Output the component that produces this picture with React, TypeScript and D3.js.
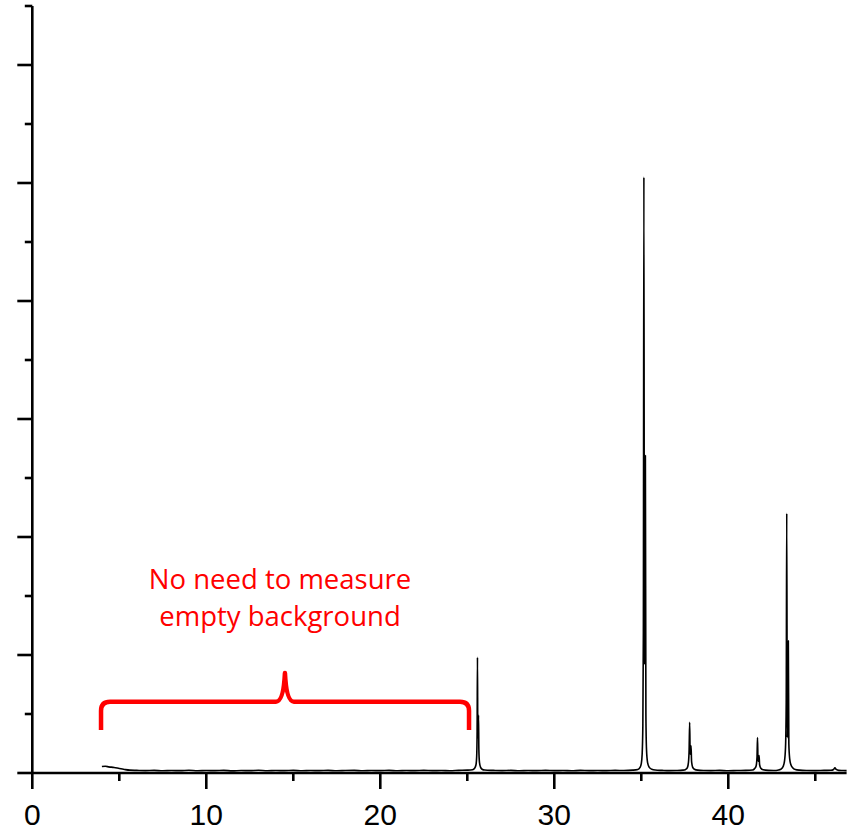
import React from "react";
import * as d3 from "d3";

// 2θ (degrees) and intensity (arbitrary units, one unit per major y tick)
const scan: [number, number][] = [
  [4.0, 0.055], [4.2, 0.057], [4.4, 0.052], [4.7, 0.047], [5.0, 0.038], [5.3, 0.03], [5.6, 0.024],
  [6.0, 0.022], [6.5, 0.02], [7.0, 0.022], [7.5, 0.019], [8.0, 0.021], [8.5, 0.02], [9.0, 0.023],
  [9.5, 0.019], [10, 0.021], [10.5, 0.02], [11, 0.022], [11.5, 0.018], [12, 0.021], [12.5, 0.02],
  [13, 0.023], [13.5, 0.019], [14, 0.021], [14.5, 0.02], [15, 0.022], [15.5, 0.019], [16, 0.021],
  [16.5, 0.02], [17, 0.022], [17.5, 0.019], [18, 0.021], [18.5, 0.022], [19, 0.019], [19.5, 0.021],
  [20, 0.02], [20.5, 0.022], [21, 0.019], [21.5, 0.021], [22, 0.02], [22.5, 0.022], [23, 0.02],
  [23.5, 0.021], [24, 0.019], [24.5, 0.022], [25, 0.024], [25.3, 0.028],
  // peak 25.6
  [25.42, 0.04], [25.5, 0.07], [25.54, 0.14], [25.565, 0.35], [25.585, 0.98], [25.605, 0.3],
  [25.625, 0.34], [25.645, 0.49], [25.665, 0.2], [25.7, 0.09], [25.76, 0.05], [25.85, 0.032], [26.0, 0.025],
  [26.5, 0.022], [27, 0.02], [27.5, 0.022], [28, 0.019], [28.5, 0.021], [29, 0.02], [29.5, 0.022],
  [30, 0.02], [30.5, 0.021], [31, 0.019], [31.5, 0.022], [32, 0.02], [32.5, 0.021], [33, 0.02],
  [33.5, 0.022], [34, 0.021], [34.5, 0.024], [34.8, 0.03],
  // peak 35.15
  [34.92, 0.045], [35.0, 0.08], [35.05, 0.16], [35.09, 0.4], [35.12, 1.2], [35.15, 5.05], [35.18, 0.92],
  [35.205, 1.2], [35.235, 2.69], [35.265, 0.5], [35.3, 0.2], [35.36, 0.09], [35.45, 0.05], [35.6, 0.032],
  [35.8, 0.025], [36.2, 0.022], [36.6, 0.02], [37.0, 0.021], [37.4, 0.024],
  // peak 37.8
  [37.55, 0.03], [37.65, 0.045], [37.71, 0.09], [37.75, 0.2], [37.78, 0.43], [37.81, 0.16], [37.835, 0.17],
  [37.86, 0.23], [37.89, 0.1], [37.95, 0.05], [38.05, 0.032], [38.25, 0.024],
  [38.6, 0.021], [39, 0.02], [39.5, 0.022], [40, 0.019], [40.5, 0.021], [41, 0.022], [41.4, 0.026],
  // peak 41.7
  [41.5, 0.035], [41.6, 0.06], [41.65, 0.13], [41.68, 0.3], [41.71, 0.1], [41.74, 0.11], [41.77, 0.147],
  [41.8, 0.07], [41.87, 0.04], [42.0, 0.027], [42.3, 0.022], [42.6, 0.021], [42.9, 0.026],
  // peak 43.36
  [43.05, 0.035], [43.15, 0.055], [43.23, 0.1], [43.29, 0.22], [43.33, 0.6], [43.36, 2.2], [43.39, 0.3],
  [43.42, 0.45], [43.45, 1.12], [43.48, 0.25], [43.53, 0.12], [43.6, 0.07], [43.7, 0.045], [43.85, 0.03],
  [44.1, 0.024], [44.5, 0.021], [45, 0.02], [45.5, 0.022], [45.9, 0.023],
  // small bump 46.1
  [46.05, 0.03], [46.13, 0.045], [46.2, 0.03], [46.35, 0.022], [46.6, 0.021], [46.8, 0.02],
];

const xMajorTicks = [0, 10, 20, 30, 40];
const xMinorTicks = [5, 15, 25, 35, 45];
const yMajorTicks = [0, 1, 2, 3, 4, 5, 6];
const yMinorTicks = [0.5, 1.5, 2.5, 3.5, 4.5, 5.5, 6.5];
const noteLines = ["No need to measure", "empty background"];
// bracket annotation: [start 2θ, centre 2θ, end 2θ]
const bracketSpan = [3.95, 14.52, 25.1];

export default function App() {
  const W = 850;
  const H = 830;
  const x = d3.scaleLinear().domain([0, 46.8]).range([32.3, 846.6]);
  const y = d3.scaleLinear().domain([0, 6.5]).range([773, 6]);

  const line = d3
    .line<[number, number]>()
    .x((d) => x(d[0]))
    .y((d) => y(d[1]))
    .curve(d3.curveMonotoneX);

  const red = "#ff0000";
  const axisW = 2.6;

  // bracket geometry
  const bx0 = x(bracketSpan[0]);
  const bxc = x(bracketSpan[1]);
  const bx1 = x(bracketSpan[2]);
  const yh = 701.7;
  const yb = 730;
  const yt = 673;
  const r = 9;
  const bracket = [
    `M${bx0},${yb}`,
    `L${bx0},${yh + r}`,
    `Q${bx0},${yh} ${bx0 + r},${yh}`,
    `L${bxc - 9},${yh}`,
    `Q${bxc - 1.5},${yh} ${bxc},${yt}`,
    `Q${bxc + 1.5},${yh} ${bxc + 9},${yh}`,
    `L${bx1 - r},${yh}`,
    `Q${bx1},${yh} ${bx1},${yh + r}`,
    `L${bx1},${yb}`,
  ].join(" ");

  return (
    <svg
      width={W}
      height={H}
      style={{ position: "absolute", left: 0, top: 0, background: "#fff" }}
    >
      {/* data */}
      <path d={line(scan) || ""} fill="none" stroke="#000" strokeWidth={1.6} strokeLinejoin="round" />

      {/* y axis */}
      <line x1={x(0)} x2={x(0)} y1={y(6.5)} y2={y(0)} stroke="#000" strokeWidth={axisW} />
      {yMajorTicks.map((t) => (
        <line key={"ym" + t} x1={x(0) - 15} x2={x(0)} y1={y(t)} y2={y(t)} stroke="#000" strokeWidth={axisW} />
      ))}
      {yMinorTicks.map((t) => (
        <line key={"yn" + t} x1={x(0) - 7.5} x2={x(0)} y1={y(t)} y2={y(t)} stroke="#000" strokeWidth={axisW} />
      ))}

      {/* x axis */}
      <line x1={x(0)} x2={x(46.8)} y1={y(0)} y2={y(0)} stroke="#000" strokeWidth={axisW} />
      {xMajorTicks.map((t) => (
        <line key={"xm" + t} x1={x(t)} x2={x(t)} y1={y(0)} y2={y(0) + 16} stroke="#000" strokeWidth={axisW} />
      ))}
      {xMinorTicks.map((t) => (
        <line key={"xn" + t} x1={x(t)} x2={x(t)} y1={y(0)} y2={y(0) + 8} stroke="#000" strokeWidth={axisW} />
      ))}
      {xMajorTicks.map((t) => (
        <text
          key={"xl" + t}
          x={x(t)}
          y={825}
          textAnchor="middle"
          fontFamily="'Liberation Sans', Arial, sans-serif"
          fontSize={30}
          fill="#000"
        >
          {t}
        </text>
      ))}

      {/* annotation */}
      <path d={bracket} fill="none" stroke={red} strokeWidth={4.5} strokeLinejoin="round" />
      {noteLines.map((s, i) => (
        <text
          key={s}
          x={280}
          y={589 + i * 36.5}
          textAnchor="middle"
          fontFamily="'Open Sans', sans-serif"
          fontSize={27.5}
          fill={red}
        >
          {s}
        </text>
      ))}
    </svg>
  );
}
